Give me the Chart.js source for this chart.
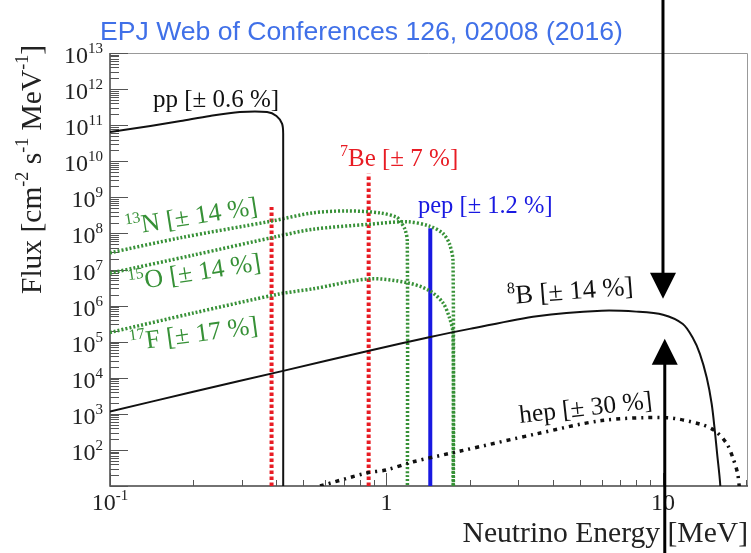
<!DOCTYPE html>
<html><head><meta charset="utf-8">
<script src="https://cdn.jsdelivr.net/npm/chart.js@4.4.1/dist/chart.umd.min.js"></script>
<style>html,body{margin:0;padding:0;background:#fff}#wrap{width:751px;height:553px;position:relative}</style>
</head><body><div id="wrap"><canvas id="c" width="751" height="553"></canvas></div>
<script>
// ---- data (energy in MeV, flux in cm^-2 s^-1 MeV^-1) ----
const ppEnergy = [0.1, 0.14, 0.18, 0.23, 0.295, 0.37, 0.40, 0.419, 0.423, 0.423];
const ppFlux   = [6.5e10, 9.5e10, 1.3e11, 1.8e11, 2.3e11, 2.3e11, 1.8e11, 1.1e11, 5.8e10, 1];

const b8Energy = [0.1, 0.2, 0.423, 0.865, 1.44, 2.0, 3.5, 6.0, 8.0, 10, 11.8, 12.8, 13.6, 14.4, 15.0, 15.4, 15.7, 16.1, 16.3];
const b8Flux   = [1.15e3, 4.1e3, 1.55e4, 5.6e4, 1.35e5, 2.26e5, 5.1e5, 7.2e5, 6.8e5, 5.6e5, 3.1e5, 1.3e5, 4.6e4, 1.0e4, 1.9e3, 3.4e2, 78, 11.5, 1];

const hepEnergy = [0.575, 0.85, 1.0, 1.25, 1.85, 3.5, 6.0, 10.3, 13.6, 15.4, 17.0, 17.9, 18.6, 18.9];
const hepFlux   = [10, 23, 28, 47, 93, 280, 650, 780, 520, 340, 150, 60, 23, 9];

const n13Energy = [0.1, 0.18, 0.385, 0.54, 0.72, 0.95, 1.09, 1.12, 1.166, 1.189, 1.19];
const n13Flux   = [2.9e7, 7.6e7, 2.2e8, 3.7e8, 4.2e8, 3.7e8, 2.8e8, 2.2e8, 1.3e8, 6.2e7, 1];

const o15Energy = [0.1, 0.2, 0.41, 0.54, 0.87, 1.19, 1.43, 1.6, 1.69, 1.74, 1.742];
const o15Flux   = [7.9e6, 2.5e7, 8.5e7, 1.3e8, 1.8e8, 2.1e8, 1.6e8, 1.0e8, 5.1e7, 1.7e7, 1];

const f17Energy = [0.1, 0.2, 0.41, 0.54, 0.87, 1.19, 1.43, 1.6, 1.69, 1.74, 1.745];
const f17Flux   = [1.8e5, 6.2e5, 2.1e6, 2.9e6, 5.5e6, 4.3e6, 2.6e6, 1.2e6, 4.6e5, 1.7e5, 1];

const be7Energy = [0.384, 0.862];
const be7Flux   = [5.4e8, 4.5e9];
const pepEnergy = [1.44];
const pepFlux   = [1.4e8];

const yTickExponents = [2, 3, 4, 5, 6, 7, 8, 9, 10, 11, 12, 13];
const xTickValues = [0.1, 1, 10];
const xTickBase = ['10', '1', '10'];
const xTickExp  = ['-1', '', ''];

// ---- helpers ----
const SERIF = '"Liberation Serif","Times New Roman",serif';
function pts(xs, ys) { return xs.map((x, i) => ({x: x, y: ys[i]})); }
function vline(e, f) { return [{x: e, y: 1}, {x: e, y: f}]; }

function richWidth(ctx, parts, size, supScale) {
  let w = 0;
  for (const [t, sup] of parts) {
    ctx.font = (sup ? Math.round(size * supScale) : size) + 'px ' + SERIF;
    w += ctx.measureText(t).width;
  }
  return w;
}
function drawRich(ctx, parts, x, y, size, color, opts) {
  const supScale = (opts && opts.supScale) || 0.62;
  const raise = (opts && opts.raise != null) ? opts.raise : size * 0.42;
  const align = (opts && opts.align) || 'left';
  let w = richWidth(ctx, parts, size, supScale);
  let cx = x;
  if (align === 'right') cx = x - w;
  else if (align === 'center') cx = x - w / 2;
  ctx.fillStyle = color;
  ctx.textBaseline = 'alphabetic';
  ctx.textAlign = 'left';
  for (const [t, sup] of parts) {
    ctx.font = (sup ? Math.round(size * supScale) : size) + 'px ' + SERIF;
    ctx.fillText(t, cx, sup ? y - raise : y);
    cx += ctx.measureText(t).width;
  }
}

const GREEN = 'rgb(55,145,55)';
const RED = 'rgb(232,28,36)';
const BLUE = 'rgb(25,25,225)';

const curveLabels = [
  {e: 0.143, f: 3.2e11, rot: 0,    size: 25,   color: '#111', parts: [['pp [\u00b1 0.6 %]', false]]},
  {e: 0.679, f: 7.4e9,  rot: 0,    size: 25,   color: RED,   parts: [['7', true], ['Be [\u00b1 7 %]', false]]},
  {e: 1.30,  f: 3.7e8,  rot: 0,    size: 24.5, color: BLUE,  parts: [['pep [\u00b1 1.2 %]', false]]},
  {e: 0.115, f: 9.1e7,  rot: -9,   size: 26,   color: GREEN, parts: [['13', true], ['N [\u00b1 14 %]', false]]},
  {e: 0.118, f: 2.6e6,  rot: -8.8, size: 26,   color: GREEN, parts: [['15', true], ['O [\u00b1 14 %]', false]]},
  {e: 0.119, f: 5.6e4,  rot: -7.8, size: 26,   color: GREEN, parts: [['17', true], ['F [\u00b1 17 %]', false]]},
  {e: 2.75,  f: 1.1e6,  rot: -4.4, size: 26.5, color: '#111', parts: [['8', true], ['B [\u00b1 14 %]', false]]},
  {e: 3.04,  f: 5.6e2,  rot: -6.4, size: 25.5, color: '#111', parts: [['hep [\u00b1 30 %]', false]]}
];

const deco = {
  id: 'deco',
  beforeDatasetsDraw(chart) {
    const ctx = chart.ctx, xs = chart.scales.x, ys = chart.scales.y;
    const {left, right, top, bottom} = chart.chartArea;
    ctx.save();
    ctx.strokeStyle = '#999'; ctx.lineWidth = 1;
    ctx.beginPath();
    ctx.moveTo(left, top + 0.5); ctx.lineTo(right - 0.5, top + 0.5); ctx.lineTo(right - 0.5, bottom);
    ctx.stroke();
    ctx.strokeStyle = '#444'; ctx.lineWidth = 1.5;
    ctx.beginPath();
    ctx.moveTo(left, top); ctx.lineTo(left, bottom); ctx.lineTo(right, bottom);
    ctx.stroke();
    ctx.strokeStyle = '#555'; ctx.lineWidth = 1;
    ctx.beginPath();
    for (let ex = 1; ex <= 13; ex++) {
      for (let m = 1; m <= 9; m++) {
        const v = m * Math.pow(10, ex);
        if (v > 1e13) break;
        const y = Math.round(ys.getPixelForValue(v)) + 0.5;
        const len = m === 1 ? 18 : 9;
        ctx.moveTo(left, y); ctx.lineTo(left + len, y);
      }
    }
    for (let ex = -1; ex <= 1; ex++) {
      for (let m = 1; m <= 9; m++) {
        const v = m * Math.pow(10, ex);
        if (v > 20.3) break;
        const x = Math.round(xs.getPixelForValue(v)) + 0.5;
        const len = m === 1 ? 13 : 6;
        ctx.moveTo(x, bottom); ctx.lineTo(x, bottom - len);
      }
    }
    ctx.stroke();
    ctx.restore();
  },
  afterDraw(chart) {
    const ctx = chart.ctx, xs = chart.scales.x, ys = chart.scales.y;
    ctx.save();
    for (const ex of yTickExponents) {
      const y = ys.getPixelForValue(Math.pow(10, ex));
      drawRich(ctx, [['10', false], [String(ex), true]], 103, y + 10, 24, '#222', {align: 'right', supScale: 0.62, raise: 10});
    }
    xTickValues.forEach((v, i) => {
      const x = xs.getPixelForValue(v);
      const parts = [[xTickBase[i], false]];
      if (xTickExp[i]) parts.push([xTickExp[i], true]);
      drawRich(ctx, parts, x, 510, 24, '#222', {align: 'center', supScale: 0.62, raise: 10});
    });
    drawRich(ctx, [['Neutrino Energy [MeV]', false]], 748, 542, 29.6, '#222', {align: 'right'});
    ctx.save();
    ctx.translate(41, 294);
    ctx.rotate(-Math.PI / 2);
    drawRich(ctx, [['Flux [cm', false], ['-2', true], [' s', false], ['-1', true], [' MeV', false], ['-1', true], [']', false]], 0, 0, 29.5, '#222', {supScale: 0.6, raise: 13});
    ctx.restore();
    for (const L of curveLabels) {
      const x = xs.getPixelForValue(L.e), y = ys.getPixelForValue(L.f);
      ctx.save();
      ctx.translate(x, y);
      ctx.rotate(L.rot * Math.PI / 180);
      drawRich(ctx, L.parts, 0, 0, L.size, L.color, {supScale: 0.62, raise: L.size * 0.4});
      ctx.restore();
    }
    ctx.font = '26.6px "Liberation Sans", Arial, sans-serif';
    ctx.fillStyle = 'rgb(64,112,232)';
    ctx.textAlign = 'left'; ctx.textBaseline = 'alphabetic';
    ctx.fillText('EPJ Web of Conferences 126, 02008 (2016)', 100, 40);
    ctx.fillStyle = '#000'; ctx.strokeStyle = '#000'; ctx.lineWidth = 3;
    const xd = xs.getPixelForValue(10), tipD = ys.getPixelForValue(1.55e6);
    ctx.beginPath(); ctx.moveTo(xd, 0); ctx.lineTo(xd, tipD - 20); ctx.stroke();
    ctx.beginPath(); ctx.moveTo(xd - 13, tipD - 26); ctx.lineTo(xd + 13, tipD - 26); ctx.lineTo(xd, tipD); ctx.closePath(); ctx.fill();
    const xu = xs.getPixelForValue(10.15), tipU = ys.getPixelForValue(1.2e5);
    ctx.beginPath(); ctx.moveTo(xu, chart.height); ctx.lineTo(xu, tipU + 20); ctx.stroke();
    ctx.beginPath(); ctx.moveTo(xu - 13, tipU + 26); ctx.lineTo(xu + 13, tipU + 26); ctx.lineTo(xu, tipU); ctx.closePath(); ctx.fill();
    ctx.restore();
  }
};

const base = {showLine: true, pointRadius: 0, pointHoverRadius: 0, fill: false, borderCapStyle: 'butt'};

new Chart(document.getElementById('c'), {
  type: 'scatter',
  data: {
    datasets: [
      Object.assign({}, base, {label: 'pp', data: pts(ppEnergy, ppFlux), borderColor: '#111', borderWidth: 2, tension: 0.3}),
      Object.assign({}, base, {label: '8B', data: pts(b8Energy, b8Flux), borderColor: '#111', borderWidth: 2, tension: 0.3}),
      Object.assign({}, base, {label: 'hep', data: pts(hepEnergy, hepFlux), borderColor: '#111', borderWidth: 3.5, borderDash: [4, 5, 2, 5], tension: 0.3}),
      Object.assign({}, base, {label: '13N', data: pts(n13Energy, n13Flux), borderColor: GREEN, borderWidth: 3.5, borderDash: [2, 2], tension: 0.3}),
      Object.assign({}, base, {label: '15O', data: pts(o15Energy, o15Flux), borderColor: GREEN, borderWidth: 3.5, borderDash: [2, 2], tension: 0.3}),
      Object.assign({}, base, {label: '17F', data: pts(f17Energy, f17Flux), borderColor: GREEN, borderWidth: 3.5, borderDash: [2, 2], tension: 0.3}),
      Object.assign({}, base, {label: '7Be 384', data: vline(be7Energy[0], be7Flux[0]), borderColor: RED, borderWidth: 4, borderDash: [3.5, 2.5]}),
      Object.assign({}, base, {label: '7Be 862', data: vline(be7Energy[1], be7Flux[1]), borderColor: RED, borderWidth: 4, borderDash: [3.5, 2.5]}),
      Object.assign({}, base, {label: 'pep', data: vline(pepEnergy[0], pepFlux[0]), borderColor: BLUE, borderWidth: 4})
    ]
  },
  options: {
    responsive: false,
    animation: false,
    events: [],
    layout: {padding: {left: 110, top: 53, right: 3, bottom: 67}},
    plugins: {legend: {display: false}, tooltip: {enabled: false}, title: {display: false}},
    scales: {
      x: {type: 'logarithmic', min: 0.1, max: 20.3, display: false},
      y: {type: 'logarithmic', min: 10, max: 1e13, display: false}
    }
  },
  plugins: [deco]
});
</script>
</body></html>
